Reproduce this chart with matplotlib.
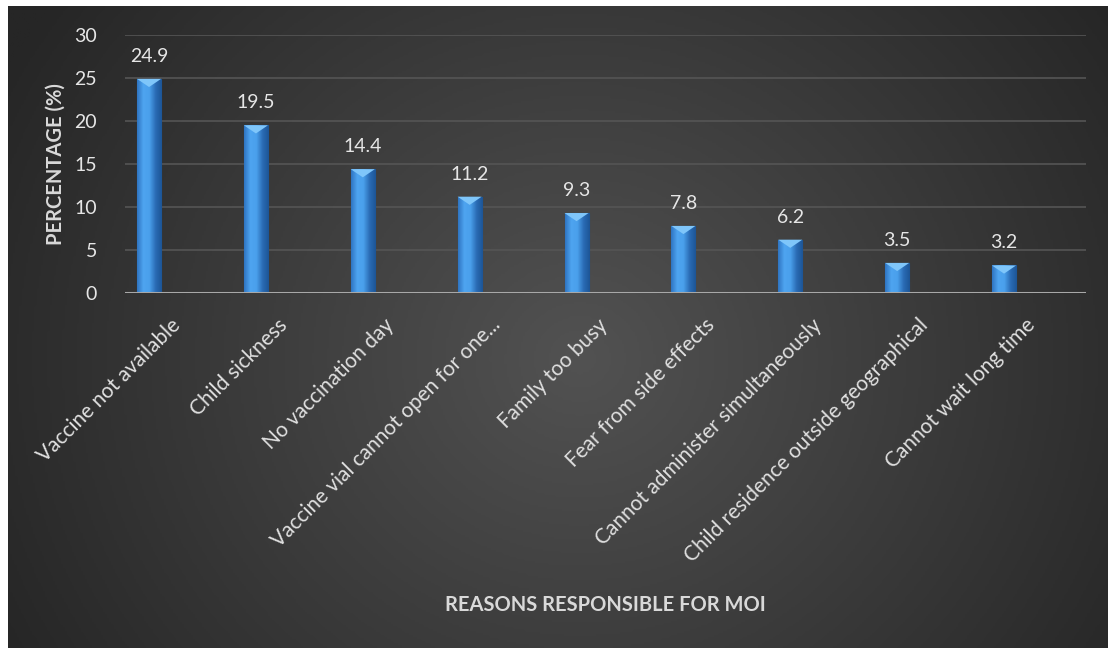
import numpy as np
import matplotlib
matplotlib.use("Agg")
import matplotlib.pyplot as plt
from matplotlib.patches import Polygon
import matplotlib.transforms as mtransforms
from matplotlib.colors import LinearSegmentedColormap

categories = ["Vaccine not available", "Child sickness", "No vaccination day",
              "Vaccine vial cannot open for one...", "Family too busy",
              "Fear from side effects", "Cannot administer simultaneously",
              "Child residence outside geographical", "Cannot wait long time"]
values = [24.9, 19.5, 14.4, 11.2, 9.3, 7.8, 6.2, 3.5, 3.2]
value_labels = ["24.9", "19.5", "14.4", "11.2", "9.3", "7.8", "6.2", "3.5", "3.2"]
yticks = [0, 5, 10, 15, 20, 25, 30]

W, H = 1108, 648
fig = plt.figure(figsize=(W / 100, H / 100), dpi=100, facecolor="white")
FONT = "Lato"
plt.rcParams["font.family"] = [FONT, "DejaVu Sans"]

# Background radial gradient
bg = fig.add_axes([8 / W, 0, (W - 8) / W, (H - 6) / H])
bg.set_axis_off()
yy, xx = np.mgrid[0:1:300j, 0:1:500j]
cx, cy = 0.52, 0.45
r = np.sqrt(((xx - cx) * 1.6) ** 2 + ((yy - cy) * 1.0) ** 2)
r = np.clip(r / 0.95, 0, 1)
bgcmap = LinearSegmentedColormap.from_list("bg", ["#525252", "#3c3c3c", "#262626"])
bg.imshow(r, cmap=bgcmap, aspect="auto", extent=[0, 1, 0, 1], origin="lower", vmin=0, vmax=1)
bg.set_xlim(0, 1)
bg.set_ylim(0, 1)

# Main axes
x0, x1 = 125, 1086
y0, y1 = 293, 35
ax = fig.add_axes([x0 / W, 1 - y0 / H, (x1 - x0) / W, (y0 - y1) / H])
ax.patch.set_alpha(0)
n = len(categories)
xs = np.arange(n)
ax.set_xlim(-0.225, n - 1 + 0.767)
ax.set_ylim(0, 30)
for t in yticks[1:]:
    ax.axhline(t, color="#555555", lw=1.2, zorder=1)

bw = 0.225
bars = ax.bar(xs, values, width=bw, color="#3d8de0", edgecolor="#1f5a9a", linewidth=0.8, zorder=3)
grad = np.linspace(0, 1, 64).reshape(1, -1)
barcmap = LinearSegmentedColormap.from_list("bar", ["#2f75c2", "#4ea4f0", "#4aa0ec", "#2a6cb5", "#1d5596"])
for i, (b, v) in enumerate(zip(bars, values)):
    bx = b.get_x()
    im = ax.imshow(grad, cmap=barcmap, aspect="auto", extent=[bx, bx + bw, 0, v], zorder=3.5)
    im.set_clip_path(b)
    d = 0.95
    tri = Polygon([[bx, v], [bx + bw, v], [bx + bw / 2, v - d]], closed=True,
                  facecolor="#7fc6fa", edgecolor="none", zorder=4)
    ax.add_patch(tri)
    ax.annotate(value_labels[i], (bx + bw / 2, v), xytext=(0, 17),
                textcoords="offset pixels", ha="center", va="baseline",
                color="#e6e6e6", fontsize=14, zorder=5)
ax.axhline(0, color="#a8a8a8", lw=2.2, zorder=4)

for s in ax.spines.values():
    s.set_visible(False)
ax.set_yticks(yticks)
ax.set_yticklabels([str(t) for t in yticks], color="#e6e6e6", fontsize=14)
ax.tick_params(axis="y", length=0, pad=20)
ax.set_xticks(xs)
ax.set_xticklabels([])
ax.tick_params(axis="x", length=0)

off = mtransforms.ScaledTranslation(0.28, -0.29, fig.dpi_scale_trans)
for i, c in enumerate(categories):
    ax.text(i, 0, c, rotation=45, rotation_mode="anchor", ha="right", va="center",
            transform=ax.get_xaxis_transform() + off, color="#e0e0e0", fontsize=15)

fig.text((x0 + x1) / 2 / W, 1 - 605 / H, "REASONS RESPONSIBLE FOR MOI", ha="center", va="center",
         color="#d9d9d9", fontsize=14.5, fontweight="bold")
fig.text(56 / W, 1 - 164 / H, "PERCENTAGE (%)", ha="center", va="center", rotation=90,
         color="#d9d9d9", fontsize=14.5, fontweight="bold")

fig.savefig("out.png", dpi=100, facecolor="white")
